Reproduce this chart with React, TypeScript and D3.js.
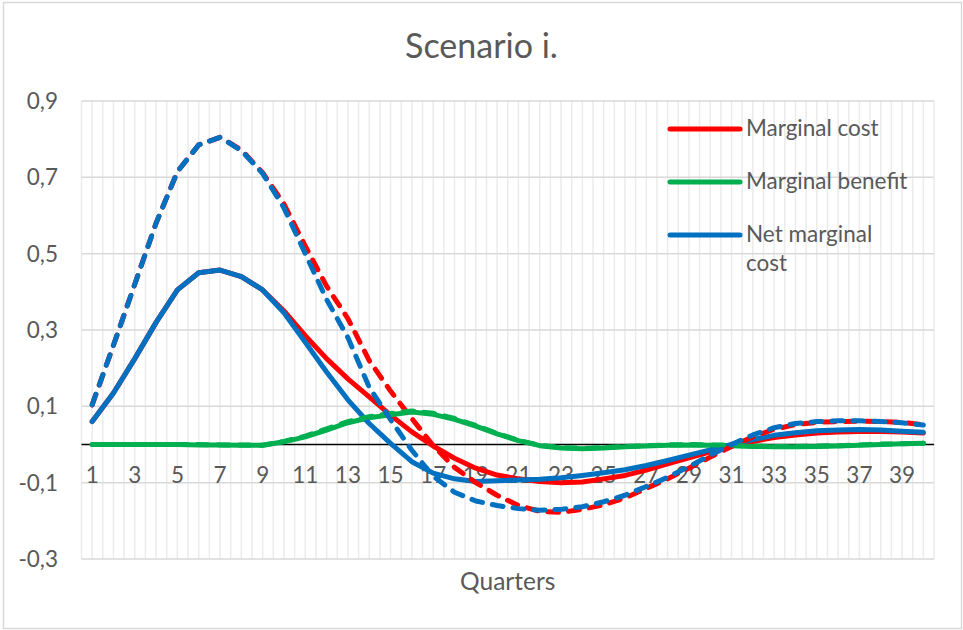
import React from "react";
import * as d3 from "d3";

const quarters = [1, 2, 3, 4, 5, 6, 7, 8, 9, 10, 11, 12, 13, 14, 15, 16, 17, 18, 19, 20,
  21, 22, 23, 24, 25, 26, 27, 28, 29, 30, 31, 32, 33, 34, 35, 36, 37, 38, 39, 40];

const marginalCost = [0.06, 0.135, 0.225, 0.32, 0.405, 0.45, 0.457, 0.44, 0.405, 0.35,
  0.285, 0.225, 0.172, 0.125, 0.077, 0.033, -0.004, -0.036, -0.062, -0.08,
  -0.09, -0.097, -0.1, -0.098, -0.09, -0.081, -0.067, -0.051, -0.035, -0.019,
  -0.004, 0.008, 0.018, 0.025, 0.03, 0.033, 0.034, 0.034, 0.033, 0.03];

const marginalBenefit = [0.0, 0.0, 0.0, 0.0, 0.0, -0.001, -0.001, -0.002, -0.002, 0.007,
  0.02, 0.038, 0.057, 0.07, 0.078, 0.085, 0.079, 0.066, 0.048, 0.028,
  0.01, -0.003, -0.009, -0.011, -0.009, -0.006, -0.004, -0.002, -0.001, -0.002,
  -0.003, -0.005, -0.006, -0.006, -0.005, -0.004, -0.002, 0.0, 0.002, 0.003];

const netMarginalCost = [0.06, 0.135, 0.225, 0.32, 0.405, 0.45, 0.457, 0.44, 0.405, 0.345,
  0.268, 0.19, 0.117, 0.055, 0.003, -0.045, -0.075, -0.09, -0.097, -0.095,
  -0.093, -0.091, -0.087, -0.081, -0.074, -0.066, -0.055, -0.042, -0.028, -0.014,
  0.0, 0.013, 0.024, 0.031, 0.036, 0.038, 0.039, 0.038, 0.035, 0.032];

const marginalCostDashed = [0.104, 0.26, 0.42, 0.58, 0.715, 0.785, 0.805, 0.772, 0.712, 0.63,
  0.52, 0.415, 0.33, 0.22, 0.14, 0.068, -0.003, -0.06, -0.1, -0.133,
  -0.16, -0.175, -0.178, -0.17, -0.158, -0.14, -0.115, -0.09, -0.062, -0.033,
  -0.005, 0.02, 0.04, 0.052, 0.058, 0.06, 0.061, 0.06, 0.058, 0.052];

const marginalBenefitDashed = [0.0, 0.0, 0.0, 0.0, 0.0, 0.0, -0.001, -0.001, -0.002, 0.008,
  0.022, 0.041, 0.06, 0.073, 0.081, 0.088, 0.082, 0.068, 0.05, 0.029,
  0.011, -0.002, -0.008, -0.01, -0.008, -0.005, -0.003, -0.001, 0.0, -0.001,
  -0.002, -0.004, -0.005, -0.005, -0.004, -0.003, -0.001, 0.001, 0.002, 0.003];

const netMarginalCostDashed = [0.104, 0.26, 0.42, 0.58, 0.715, 0.785, 0.805, 0.77, 0.71, 0.62,
  0.5, 0.38, 0.28, 0.15, 0.065, -0.015, -0.083, -0.125, -0.148, -0.16,
  -0.168, -0.172, -0.17, -0.163, -0.15, -0.133, -0.11, -0.086, -0.058, -0.028,
  0.0, 0.025, 0.044, 0.055, 0.06, 0.062, 0.062, 0.06, 0.057, 0.051];

const yTicks = [-0.3, -0.1, 0.1, 0.3, 0.5, 0.7, 0.9];
const xTickLabels = [1, 3, 5, 7, 9, 11, 13, 15, 17, 19, 21, 23, 25, 27, 29, 31, 33, 35, 37, 39];

const legendItems = [
  { lines: ["Marginal cost"], color: "#FF0000" },
  { lines: ["Marginal benefit"], color: "#00B050" },
  { lines: ["Net marginal", "cost"], color: "#0070C0" },
];

const W = 963;
const H = 630;
const FONT = "Lato, 'Open Sans', sans-serif";
const TEXT = "#595959";

export default function App() {
  const left = 81.5, right = 934, top = 101, bottom = 559;
  const x = d3.scaleBand<number>().domain(quarters).range([left, right]).padding(0);
  const bw = x.bandwidth();
  const cx = (q: number) => (x(q) as number) + bw / 2;
  const y = d3.scaleLinear().domain([-0.3, 0.9]).range([bottom, top]);
  const loc = d3.formatLocale({ decimal: ",", thousands: ".", grouping: [3], currency: ["", ""], minus: "-" });
  const fmt = loc.format(".1f");

  const mk = (vals: number[]) =>
    d3.line<number>().x((_, i) => cx(quarters[i])).y((v) => y(v))(vals) as string;

  const series = [
    { vals: marginalCost, color: "#FF0000", dash: false },
    { vals: marginalBenefit, color: "#00B050", dash: false },
    { vals: netMarginalCost, color: "#0070C0", dash: false },
    { vals: marginalCostDashed, color: "#FF0000", dash: true },
    { vals: marginalBenefitDashed, color: "#00B050", dash: true },
    { vals: netMarginalCostDashed, color: "#0070C0", dash: true },
  ];

  const vLines: number[] = [];
  quarters.forEach((q) => {
    vLines.push(x(q) as number);
    vLines.push(cx(q));
  });
  vLines.push(right);

  const legendY = [129, 182, 235];

  return (
    <svg width={W} height={H} style={{ position: "absolute", left: 0, top: 0, background: "#fff" }} fontFamily={FONT}>
      <rect x={0} y={0} width={W} height={H} fill="#fff" />
      <rect x={3.5} y={2.5} width={958} height={626} fill="none" stroke="#d9d9d9" strokeWidth={1.5} />
      <text x={481.5} y={58} textAnchor="middle" fontSize={34} fill={TEXT}>Scenario i.</text>

      {vLines.map((vx, i) => (
        <line key={"v" + i} x1={vx} x2={vx} y1={top} y2={bottom} stroke="#ebebeb" strokeWidth={1.5} />
      ))}
      {yTicks.map((t) => (
        <line key={"h" + t} x1={left} x2={right} y1={y(t)} y2={y(t)} stroke="#d9d9d9" strokeWidth={1.5} />
      ))}
      {yTicks.map((t) => (
        <text key={"yl" + t} x={58} y={y(t) + 8} textAnchor="end" fontSize={22.5} fill={TEXT}>{fmt(t)}</text>
      ))}
      <line x1={left} x2={right} y1={y(0)} y2={y(0)} stroke="#000" strokeWidth={1.5} />
      {xTickLabels.map((q) => (
        <text key={"xl" + q} x={cx(q)} y={483} textAnchor="middle" fontSize={22.5} fill={TEXT}>{q}</text>
      ))}
      <text x={(left + right) / 2} y={590} textAnchor="middle" fontSize={24.5} fill={TEXT}>Quarters</text>

      {series.map((s, i) => (
        <path key={"s" + i} d={mk(s.vals)} fill="none" stroke={s.color} strokeWidth={5}
          strokeLinejoin="round" strokeLinecap="round"
          strokeDasharray={s.dash ? "11 10" : undefined} />
      ))}

      {legendItems.map((it, i) => (
        <g key={"lg" + i}>
          <line x1={670} x2={740} y1={legendY[i]} y2={legendY[i]} stroke={it.color} strokeWidth={5} strokeLinecap="round" />
          {it.lines.map((ln, j) => (
            <text key={j} x={746} y={legendY[i] + 7 + j * 28.5} fontSize={22.5} fill={TEXT}>{ln}</text>
          ))}
        </g>
      ))}
    </svg>
  );
}
